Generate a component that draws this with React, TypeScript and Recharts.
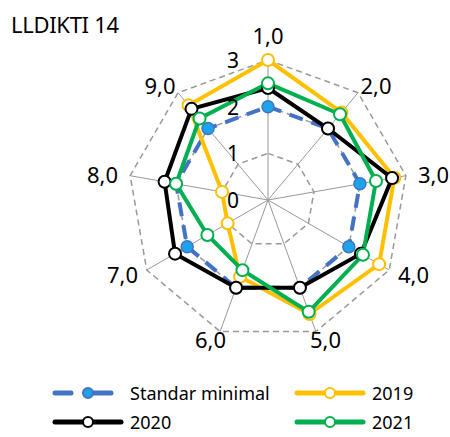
import React from 'react';
import {
  RadarChart,
  Radar,
  PolarGrid,
  PolarAngleAxis,
  PolarRadiusAxis,
} from 'recharts';

const categories = ['1,0', '2,0', '3,0', '4,0', '5,0', '6,0', '7,0', '8,0', '9,0'];
const standarMinimal = [2, 2, 2, 2, 2, 2, 2, 2, 2];
const y2019 = [3.0, 2.45, 2.75, 2.75, 2.6, 1.75, 1.0, 1.0, 2.65];
const y2020 = [2.4, 2.0, 2.7, 2.3, 2.0, 2.0, 2.3, 2.25, 2.55];
const y2021 = [2.5, 2.4, 2.35, 2.35, 2.55, 1.6, 1.5, 2.0, 2.28];
const radiusTicks = [0, 1, 2, 3];

const CX = 268;
const CY = 200;
const FONT = '"Noto Sans", sans-serif';

const data = categories.map((name, i) => ({
  name,
  std: standarMinimal[i],
  a: y2019[i],
  b: y2020[i],
  c: y2021[i],
}));

// category labels sit just outside the outer ring
const AngleTick = (props: any) => {
  const { x, y, payload } = props;
  const ang = Math.atan2(CY - y, x - CX);
  const cos = Math.cos(ang);
  const sin = Math.sin(ang);
  const tx = CX + 148 * cos + 20 * cos;
  const ty = CY - 148 * sin - 17 * Math.pow(Math.max(sin, 0), 8);
  return (
    <text x={tx} y={ty} textAnchor="middle" dominantBaseline="central" fontSize={22} fill="#000" fontFamily={FONT}>
      {payload.value}
    </text>
  );
};

const RadiusTick = (props: any) => {
  const { x, y, payload } = props;
  return (
    <text x={x - 35} y={y} textAnchor="middle" dominantBaseline="central" fontSize={21} fill="#000" fontFamily={FONT}>
      {payload.value}
    </text>
  );
};

const legendItems = [
  { label: 'Standar minimal', color: '#4472C4', fill: '#1FA3E8', dashed: true },
  { label: '2019', color: '#FFC000', fill: '#fff', dashed: false },
  { label: '2020', color: '#000000', fill: '#fff', dashed: false },
  { label: '2021', color: '#00B050', fill: '#fff', dashed: false },
];

function LegendIcon({ color, fill, dashed }: any) {
  return (
    <svg width={72} height={14} style={{ display: 'block' }}>
      <line
        x1={3} y1={7} x2={69} y2={7}
        stroke={color} strokeWidth={5} strokeLinecap="round"
        strokeDasharray={dashed ? '16 14 26 100' : undefined}
      />
      <circle cx={36} cy={7} r={5} fill={fill} stroke={dashed ? '#4472C4' : color} strokeWidth={2} />
    </svg>
  );
}

export default function App() {
  return (
    <div style={{ position: 'absolute', left: 0, top: 0, width: 450, height: 437, background: '#fff', fontFamily: FONT }}>
      <div style={{ position: 'absolute', left: 11, top: 9, fontSize: 22, color: '#000', letterSpacing: -0.3 }}>LLDIKTI 14</div>
      <RadarChart width={450} height={437} data={data} cx={CX} cy={CY} outerRadius={140} startAngle={90} endAngle={-270}>
        <PolarGrid gridType="polygon" radialLines={false} stroke="#999" strokeDasharray="6 4" strokeWidth={1.5} />
        <PolarGrid gridType="polygon" polarRadius={[0]} stroke="#999" strokeWidth={1} />
        <PolarAngleAxis dataKey="name" tick={AngleTick} tickLine={false} axisLine={false} />
        <PolarRadiusAxis
          angle={90}
          domain={[0, 3]}
          ticks={radiusTicks}
          tickCount={4}
          tick={RadiusTick}
          axisLine={false}
          tickLine={false}
        />
        <Radar
          dataKey="std"
          stroke="#4472C4"
          strokeWidth={4}
          strokeDasharray="14 9"
          fill="none"
          dot={{ r: 6, fill: '#1FA3E8', stroke: '#4472C4', strokeWidth: 1.5, strokeDasharray: '0' }}
          isAnimationActive={false}
        />
        <Radar
          dataKey="a"
          stroke="#FFC000"
          strokeWidth={4}
          fill="none"
          dot={{ r: 6, fill: '#fff', stroke: '#FFC000', strokeWidth: 2 }}
          isAnimationActive={false}
        />
        <Radar
          dataKey="b"
          stroke="#000"
          strokeWidth={4}
          fill="none"
          dot={{ r: 6, fill: '#fff', stroke: '#000', strokeWidth: 2 }}
          isAnimationActive={false}
        />
        <Radar
          dataKey="c"
          stroke="#00B050"
          strokeWidth={4}
          fill="none"
          dot={{ r: 6, fill: '#fff', stroke: '#00B050', strokeWidth: 2 }}
          isAnimationActive={false}
        />
      </RadarChart>
      {legendItems.map((it, i) => (
        <div
          key={it.label}
          style={{
            position: 'absolute',
            left: i % 2 === 0 ? 52 : 294,
            top: i < 2 ? 381 : 410,
            display: 'flex',
            alignItems: 'center',
            fontSize: 18,
            color: '#000',
            height: 24,
          }}
        >
          <LegendIcon color={it.color} fill={it.fill} dashed={it.dashed} />
          <span style={{ marginLeft: it.dashed ? 6 : 6 }}>{it.label}</span>
        </div>
      ))}
    </div>
  );
}
